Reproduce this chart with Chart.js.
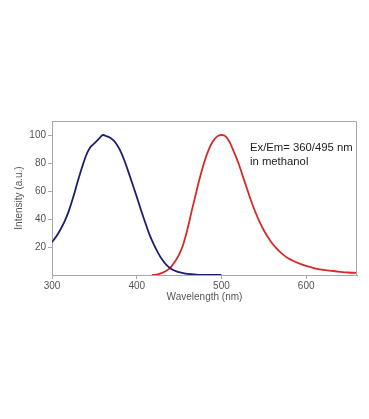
<!DOCTYPE html>
<html>
<head>
<meta charset="utf-8">
<script src="https://cdn.jsdelivr.net/npm/chart.js@4"></script>
<style>
html,body{margin:0;padding:0;background:#fff;}
#wrap{width:369px;height:419px;}
</style>
</head>
<body>
<div id="wrap"><canvas id="c" width="369" height="419"></canvas></div>
<script>
const excitationWavelengths = [300,305,310,315,320,325,330,335,340,345,350,355,360,365,370,375,380,385,390,395,400,405,410,415,420,425,430,435,440,445,450,455,460,470,480,490,500];
const excitationValues = [23.5,27.5,32.5,38.5,46,55.5,66,76,85,91,94,97,100,99,97.5,94.5,89.5,82.5,74,65,56,46.5,37.5,29,22,16,11,7.2,4.7,3,2,1.3,0.8,0.3,0.1,0,0];
const emissionWavelengths = [418,425,430,435,440,445,450,455,460,465,470,475,480,485,490,495,500,505,510,515,520,525,530,535,540,545,550,555,560,565,570,575,580,585,590,600,610,620,630,640,650,660];
const emissionValues = [0,0.5,1.5,3,5.5,9.5,14.5,22,33,46,58.5,70.5,81,89.5,95.5,99,100,99,94.5,87.5,80,71,62,53,45,38,32,27,22.5,19,16,13.5,11.5,10,8.7,6.5,4.8,3.7,2.9,2.3,1.8,1.5];
const xTickValues = [300,400,500,600];
const yTickValues = [20,40,60,80,100];
const annotationLines = ['Ex/Em= 360/495 nm','in methanol'];

const toPoints = (xs, ys) => xs.map((x, i) => ({x: x, y: ys[i]}));

const boxPlugin = {
  id: 'box',
  afterDatasetsDraw(chart) {
    const {ctx, chartArea: a} = chart;
    ctx.save();
    ctx.strokeStyle = '#a8a8a8';
    ctx.lineWidth = 1;
    ctx.beginPath();
    ctx.moveTo(a.left, a.top + 0.5);
    ctx.lineTo(a.right - 0.5, a.top + 0.5);
    ctx.lineTo(a.right - 0.5, a.bottom);
    ctx.stroke();
    ctx.fillStyle = '#222';
    ctx.font = '11.3px "Liberation Sans", Arial, sans-serif';
    ctx.textBaseline = 'middle';
    ctx.textAlign = 'left';
    ctx.fillText(annotationLines[0], 250, 148);
    ctx.fillText(annotationLines[1], 250, 162);
    ctx.restore();
  }
};

const fontFamily = '"Liberation Sans", Arial, sans-serif';

new Chart(document.getElementById('c'), {
  type: 'line',
  data: {
    datasets: [
      {
        label: 'Excitation',
        data: toPoints(excitationWavelengths, excitationValues),
        borderColor: '#1e1e6e',
        borderWidth: 1.8,
        pointRadius: 0,
        tension: 0.4,
        cubicInterpolationMode: 'monotone',
        fill: false
      },
      {
        label: 'Emission',
        data: toPoints(emissionWavelengths, emissionValues),
        borderColor: '#d42a28',
        borderWidth: 1.8,
        pointRadius: 0,
        tension: 0.4,
        cubicInterpolationMode: 'monotone',
        fill: false
      }
    ]
  },
  options: {
    responsive: false,
    animation: false,
    events: [],
    layout: { padding: { left: 0, top: 121, right: 12, bottom: 115 } },
    plugins: { legend: { display: false }, tooltip: { enabled: false } },
    scales: {
      x: {
        type: 'linear',
        min: 300,
        max: 660,
        afterBuildTicks(scale) { scale.ticks = xTickValues.map(v => ({value: v})); },
        afterFit(scale) { scale.height = 29; },
        grid: { display: true, drawOnChartArea: false, drawTicks: true, tickLength: 4, color: '#a8a8a8' },
        border: { display: true, color: '#a8a8a8', width: 1 },
        ticks: { color: '#555', padding: 1, maxRotation: 0, font: { family: fontFamily, size: 10 } },
        title: { display: true, text: 'Wavelength (nm)', color: '#555', padding: { top: 0, bottom: 1 }, font: { family: fontFamily, size: 10 } }
      },
      y: {
        type: 'linear',
        min: 0,
        max: 110,
        afterBuildTicks(scale) { scale.ticks = yTickValues.map(v => ({value: v})); },
        afterFit(scale) { scale.width = 52; },
        grid: { display: true, drawOnChartArea: false, drawTicks: true, tickLength: 4, color: '#a8a8a8' },
        border: { display: true, color: '#a8a8a8', width: 1 },
        ticks: { color: '#555', padding: 2, font: { family: fontFamily, size: 10 } },
        title: { display: true, text: 'Intensity (a.u.)', color: '#555', padding: { top: 13, bottom: 0 }, font: { family: fontFamily, size: 10 } }
      }
    }
  },
  plugins: [boxPlugin]
});
</script>
</body>
</html>
